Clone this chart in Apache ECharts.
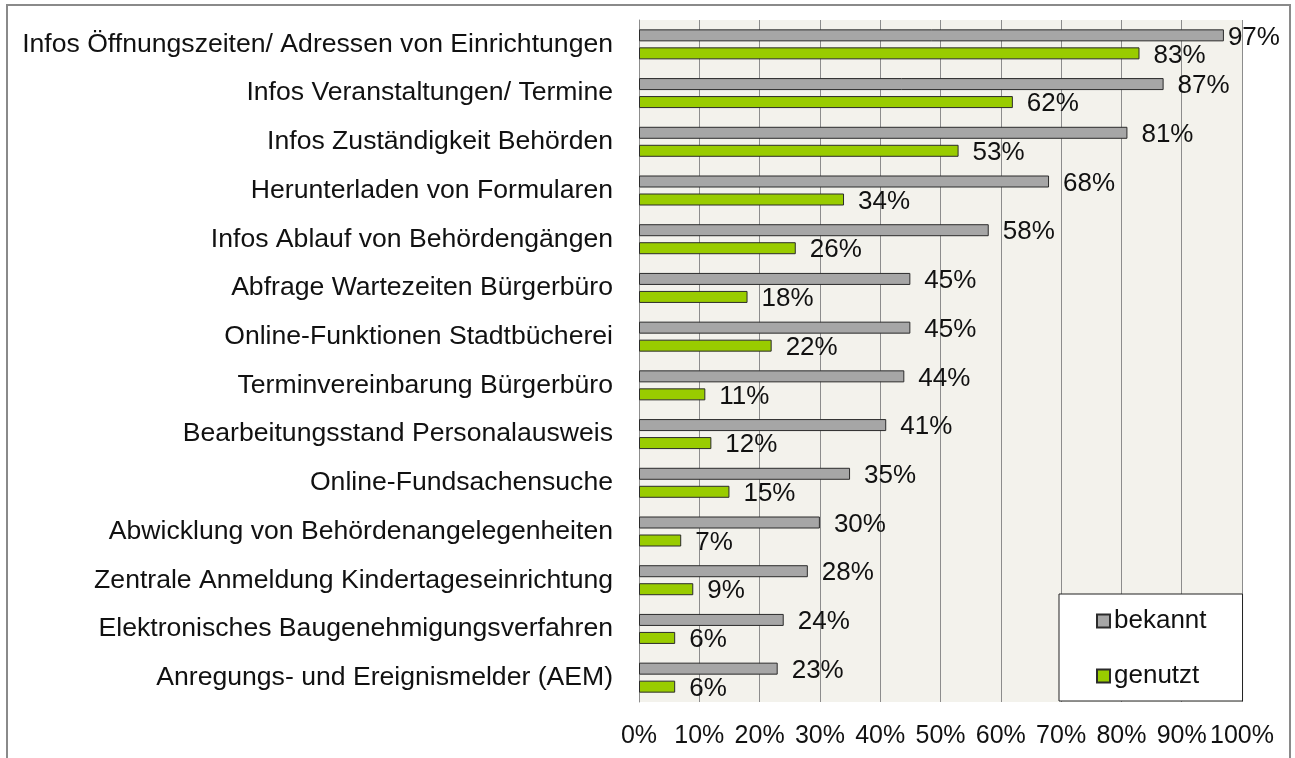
<!DOCTYPE html>
<html>
<head>
<meta charset="utf-8">
<title>bekannt / genutzt</title>
<script src="https://cdn.jsdelivr.net/npm/echarts@6/dist/echarts.min.js"></script>
<style>
  html, body { margin: 0; padding: 0; background: #fff; }
  #chart { width: 1295px; height: 758px; }
</style>
</head>
<body>
<div id="chart"></div>
<script>
// Kategorien (von oben nach unten)
var categories = [
    'Infos Öffnungszeiten/ Adressen von Einrichtungen',
    'Infos Veranstaltungen/ Termine',
    'Infos Zuständigkeit Behörden',
    'Herunterladen von Formularen',
    'Infos Ablauf von Behördengängen',
    'Abfrage Wartezeiten Bürgerbüro',
    'Online-Funktionen Stadtbücherei',
    'Terminvereinbarung Bürgerbüro',
    'Bearbeitungsstand Personalausweis',
    'Online-Fundsachensuche',
    'Abwicklung von Behördenangelegenheiten',
    'Zentrale Anmeldung Kindertageseinrichtung',
    'Elektronisches Baugenehmigungsverfahren',
    'Anregungs- und Ereignismelder (AEM)'
];
var bekannt = [97, 87, 81, 68, 58, 45, 45, 44, 41, 35, 30, 28, 24, 23];
var genutzt = [83, 62, 53, 34, 26, 18, 22, 11, 12, 15, 7, 9, 6, 6];
var xTicks = [0, 10, 20, 30, 40, 50, 60, 70, 80, 90, 100];

var font = '"Liberation Sans", Arial, sans-serif';

var chart = echarts.init(document.getElementById('chart'));

function labelStyle(dist) {
    return {
        show: true,
        position: 'right',
        distance: dist,
        offset: [0, 2],
        formatter: '{c}%',
        color: '#111',
        fontSize: 26,
        fontFamily: font
    };
}

var options = {
    animation: false,
    textStyle: { fontFamily: font },
    graphic: [{
        type: 'rect',
        shape: { x: 7, y: 5, width: 1283, height: 800 },
        style: { fill: 'none', stroke: '#8a8a8a', lineWidth: 2 },
        silent: true
    }],
    grid: {
        left: 639,
        right: 53,
        top: 20,
        bottom: 56,
        show: true,
        backgroundColor: '#f3f2ec',
        borderWidth: 0
    },
    legend: {
        orient: 'vertical',
        left: 1059,
        top: 594,
        padding: [14, 36, 12, 37],
        itemGap: 29,
        itemWidth: 13,
        itemHeight: 13,
        backgroundColor: '#fff',
        borderColor: '#222',
        borderWidth: 1,
        borderRadius: 0,
        textStyle: { fontSize: 26, color: '#111', fontFamily: font, padding: [0, 0, 0, -1] },
        data: [
            { name: 'bekannt', icon: 'rect' },
            { name: 'genutzt', icon: 'rect' }
        ]
    },
    xAxis: {
        type: 'value',
        min: 0,
        max: 100,
        interval: 10,
        axisLine: { show: false },
        axisTick: { show: false },
        axisLabel: {
            margin: 22,
            fontSize: 25,
            color: '#111',
            fontFamily: font,
            formatter: function (v) {
                return xTicks.indexOf(v) >= 0 ? v + '%' : '';
            }
        },
        splitLine: { show: true, lineStyle: { color: '#8c8c8c', width: 1 } }
    },
    yAxis: {
        type: 'category',
        inverse: true,
        data: categories,
        axisLine: { show: true, lineStyle: { color: '#8c8c8c' } },
        axisTick: { show: false },
        axisLabel: {
            margin: 26,
            fontSize: 26.6,
            color: '#111',
            fontFamily: font
        }
    },
    series: [{
        name: 'bekannt',
        type: 'bar',
        barWidth: 12,
        barGap: '50%',
        itemStyle: { color: '#a6a6a6', borderColor: '#2b2b2b', borderWidth: 1 },
        label: labelStyle(14),
        data: bekannt.map(function (v, i) {
            return i === 0 ? { value: v, label: { distance: 4 } } : v;
        })
    }, {
        name: 'genutzt',
        type: 'bar',
        barWidth: 12,
        itemStyle: { color: '#99cc00', borderColor: '#2b2b2b', borderWidth: 1 },
        label: labelStyle(14),
        data: genutzt
    }]
};
chart.setOption(options);

window.onresize = function () {
    chart.resize();
};
</script>
</body>
</html>
